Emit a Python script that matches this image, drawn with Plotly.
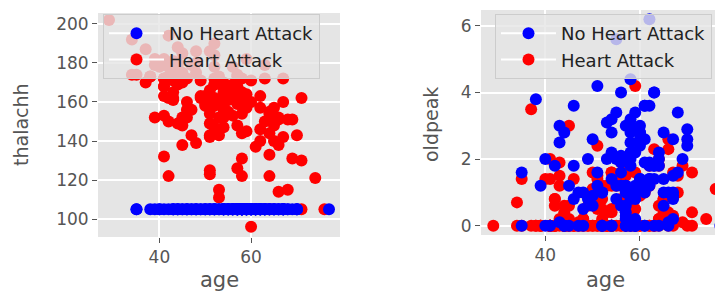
import plotly.graph_objects as go

# ---- data ----
# Heart Attack group (red)
age_ha = [63,37,41,56,57,57,56,44,52,57,54,48,49,64,58,50,58,66,43,69,
          59,44,42,61,40,71,59,51,65,53,41,65,44,54,51,46,54,54,65,65,
          51,48,45,53,39,52,44,47,53,53,51,66,62,44,63,52,48,45,34,57,
          71,54,52,41,58,35,51,45,44,62,54,51,29,51,43,55,51,59,52,58,
          41,45,60,52,42,67,68,46,54,58,48,57,52,54,45,53,62,52,43,53,
          42,59,63,42,50,68,69,45,50,50,64,57,64,43,55,37,41,56,46,46,
          64,59,41,54,39,34,47,67,52,74,54,49,42,41,41,49,60,62,57,64,
          51,43,42,67,76,70,44,60,44,42,66,71,64,66,39,58,47,35,58,56,
          56,55,41,38,38]
thalachh_ha = [150,187,172,178,163,148,153,173,162,174,160,139,171,144,162,158,172,114,171,151,
               161,179,178,137,178,162,157,123,157,152,168,140,188,152,125,160,170,165,148,151,
               142,180,148,143,182,172,180,156,115,160,149,151,146,175,172,158,186,185,174,159,
               130,156,190,132,165,182,143,175,170,163,147,154,202,186,165,161,166,164,184,154,
               179,170,160,178,122,160,151,156,158,122,175,168,169,159,138,111,157,147,162,173,
               178,145,179,194,163,115,131,152,162,159,154,173,133,161,155,170,168,162,172,152,
               122,182,172,167,179,192,143,172,169,121,163,162,162,153,163,163,96,140,126,105,
               157,181,173,142,105,143,149,171,169,150,138,105,155,152,152,131,179,174,144,163,
               169,166,182,173,173]
oldpeak_ha = [2.3,3.5,1.4,0.8,0.6,0.4,1.3,0,0.5,1.6,1.2,0.2,0.6,1.8,1,1.6,0,2.6,1.5,1.8,
              0.5,0.4,0,1,1.4,0.4,1.6,0.6,0.8,1.2,0,0.4,0,0.5,1.4,1.4,0,1.6,0.8,0.8,
              1.5,0.2,3,0.4,0,0.2,0,0,0,0,0.5,0.4,1.8,0.6,0,0.8,0,0,0,0,
              0,0,0,0,0,1.4,1.2,0.6,0,0,0.4,0,0,0,0.2,1.4,2.4,0,0,0.6,
              0,0,0,1.2,0.6,1.6,1,0,1.6,1,0,0,0,0,0,0,1.2,0.1,1.9,0,
              0.8,4.2,0,0.8,0,1.5,0.1,0.2,1.1,0,0,0.2,0.2,0,0,0,2,1.9,0,0,
              2,0,0,0,0,0.7,0.1,0,0.1,0.2,0,0,0,0,0,0,0,0,1.5,0.2,
              0.6,1.2,0,0.3,1.1,0,0.3,0.9,0,0,2.3,1.6,0.6,0,0,0.6,0,0,0.4,0,
              0,1.2,0,0,0]

# No Heart Attack group (blue)
age_no = [67,67,62,63,53,56,48,58,58,60,40,60,64,43,57,55,65,61,58,50,
          44,60,54,50,41,51,58,54,60,60,59,46,67,62,65,44,60,58,68,62,
          52,59,60,49,59,57,61,39,61,56,43,62,63,65,48,63,55,65,56,54,
          70,62,35,59,64,47,57,55,64,70,51,58,60,77,35,70,59,64,57,56,
          48,56,66,54,69,51,43,62,67,59,45,58,50,62,38,66,52,53,63,54,
          66,55,49,54,56,46,61,67,58,47,52,58,57,58,61,42,52,59,40,61,
          46,59,57,57,55,61,58,58,67,44,63,63,59,57,45,68,57,57]
thalachh_no = [105,105,105,105,105,105,105,105,105,105,105,105,105,105,105,105,105,105,105,105,
               105,105,105,105,105,105,105,105,105,105,105,105,105,105,105,105,105,105,105,105,
               105,105,105,105,105,105,105,105,105,105,105,105,105,105,105,105,105,105,105,105,
               105,105,105,105,105,105,105,105,105,105,105,105,105,105,105,105,105,105,105,105,
               105,105,105,105,105,105,105,105,105,105,105,105,105,105,105,105,105,105,105,105,
               105,105,105,105,105,105,105,105,105,105,105,105,105,105,105,105,105,105,105,105,
               105,105,105,105,105,105,105,105,105,105,105,105,105,105,105,105,105,105]
oldpeak_no = [1.5,2.6,3.6,1.4,3.1,0.6,1,1.8,3.2,2.4,2,1.4,0,2.5,0.6,1.2,1,0,2.5,2.6,
              0,1.4,2.2,0.6,0,1.2,2.2,1.4,2.8,3,3.4,3.6,0.2,1.8,0.6,0,2.8,0.8,1.6,6.2,
              0,1.2,2.6,2,0,0.4,3.6,1.2,1,1.2,3,1.2,1.8,2.8,0,4,5.6,1.4,4,2.8,
              2.6,1.4,1.6,0.2,1.8,0,1,0.8,2.2,2.4,1.6,0,1.2,0,0,2.9,0,2,1.2,2.1,
              0.5,1.9,0,0,2,4.2,0.1,1.9,0.9,0,0,3,0.9,1.4,3.8,1,0,2,1.8,0,
              0.1,3.4,0.8,3.2,1.6,0.8,2.6,1,0.1,1,1,2,0.3,0,3.6,1.8,1,2.2,0,1.9,
              1.8,0.8,0,3,2,0,4.4,2.8,0.8,2.8,4,0,1,0.2,1.2,3.4,1.2,0]

labels = ["No Heart Attack", "Heart Attack"]
colors = ["#0000FF", "#FF0000"]
left_ticks = [100, 120, 140, 160, 180, 200]
right_ticks = [0, 2, 4, 6]
x_ticks = [40, 60]

GRAY = "#555555"
MS = 12

fig = go.Figure()

# left subplot (thalachh vs age)
fig.add_trace(go.Scatter(x=age_ha, y=thalachh_ha, mode="markers", xaxis="x", yaxis="y",
                         marker=dict(color=colors[1], size=MS, line=dict(width=0)), showlegend=False))
fig.add_trace(go.Scatter(x=age_no, y=thalachh_no, mode="markers", xaxis="x", yaxis="y",
                         marker=dict(color=colors[0], size=MS, line=dict(width=0)), showlegend=False))
# right subplot (oldpeak vs age)
fig.add_trace(go.Scatter(x=age_ha, y=oldpeak_ha, mode="markers", xaxis="x2", yaxis="y2",
                         marker=dict(color=colors[1], size=MS, line=dict(width=0)), showlegend=False))
fig.add_trace(go.Scatter(x=age_no, y=oldpeak_no, mode="markers", xaxis="x2", yaxis="y2",
                         marker=dict(color=colors[0], size=MS, line=dict(width=0)), showlegend=False))

# legend entries
for lg, xa, ya in [("legend", "x", "y"), ("legend2", "x2", "y2")]:
    for i, (lab, col) in enumerate(zip(labels, colors)):
        fig.add_trace(go.Scatter(x=[None], y=[None], mode="lines+markers", name=lab,
                                 xaxis=xa, yaxis=ya, legend=lg, legendrank=i + 1,
                                 line=dict(color="white", width=2),
                                 marker=dict(color=col, size=MS, line=dict(width=0))))

axis_common = dict(showgrid=True, gridcolor="white", gridwidth=1.5, zeroline=False,
                   showline=False, ticks="outside", ticklen=5, tickwidth=1, tickcolor=GRAY,
                   tickfont=dict(family="DejaVu Sans", size=17, color=GRAY))

legend_common = dict(bgcolor="rgba(229,229,229,0.8)", bordercolor="#CCCCCC", borderwidth=1,
                     font=dict(family="DejaVu Sans", size=18, color="#222222"),
                     xanchor="left", yanchor="top", tracegroupgap=0, itemwidth=55)

W0, PW = 98, 617
T0, PH, B = 10, 227, 237

def px_x(p):
    return (p - W0) / PW

def px_y(p):
    return (B - p) / PH

fig.update_layout(
    width=715, height=291,
    margin=dict(l=98, r=0, t=10, b=54),
    paper_bgcolor="white", plot_bgcolor="#E5E5E5",
    xaxis=dict(domain=[0, px_x(340)], range=[26.6, 79.4], tickvals=x_ticks, anchor="y", **axis_common),
    yaxis=dict(domain=[0, px_y(13)], range=[90.8, 205.6], tickvals=left_ticks, anchor="x", **axis_common),
    xaxis2=dict(domain=[px_x(481), 1], range=[26.4, 75.86], tickvals=x_ticks, anchor="y2", **axis_common),
    yaxis2=dict(domain=[px_y(235), 1], range=[-0.28, 6.48], tickvals=right_ticks, anchor="x2", **axis_common),
    legend=dict(x=px_x(103), y=px_y(14), **legend_common),
    legend2=dict(x=px_x(495), y=px_y(14), **legend_common),
    annotations=[
        dict(text="age", x=px_x(219), y=px_y(280), xref="paper", yref="paper", showarrow=False,
             xanchor="center", yanchor="middle", font=dict(family="DejaVu Sans", size=21, color=GRAY)),
        dict(text="age", x=px_x(605), y=px_y(280), xref="paper", yref="paper", showarrow=False,
             xanchor="center", yanchor="middle", font=dict(family="DejaVu Sans", size=21, color=GRAY)),
        dict(text="thalachh", x=px_x(21), y=px_y(125), xref="paper", yref="paper", showarrow=False,
             textangle=-90, xanchor="center", yanchor="middle",
             font=dict(family="DejaVu Sans", size=19, color=GRAY)),
        dict(text="oldpeak", x=px_x(431), y=px_y(125), xref="paper", yref="paper", showarrow=False,
             textangle=-90, xanchor="center", yanchor="middle",
             font=dict(family="DejaVu Sans", size=19, color=GRAY)),
    ],
)

fig.write_html("out.html", config={"displayModeBar": False},
               post_script="document.body.style.margin='0px';")
